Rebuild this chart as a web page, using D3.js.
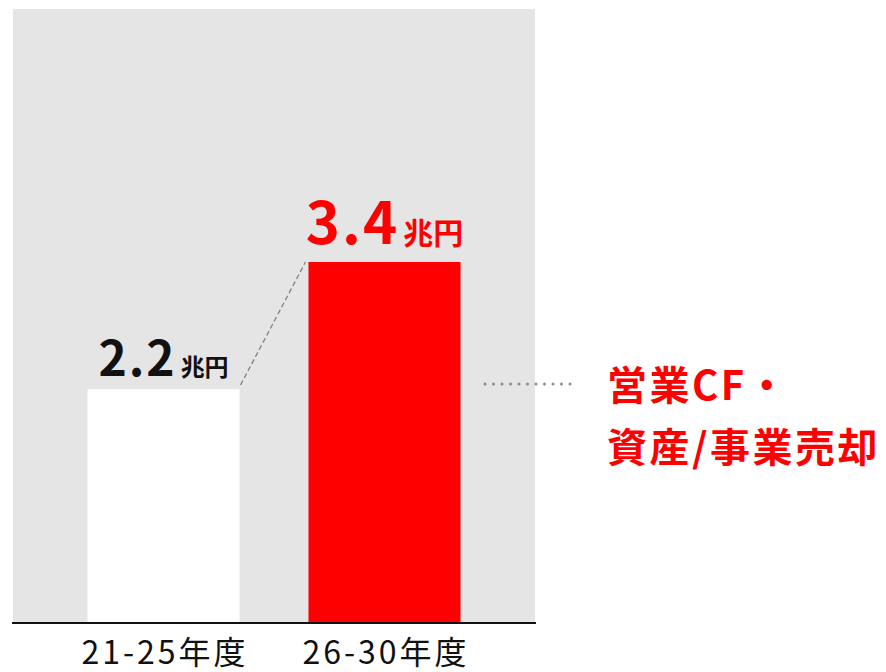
<!DOCTYPE html>
<html>
<head>
<meta charset="utf-8">
<script src="https://cdn.jsdelivr.net/npm/d3@7"></script>
<style>
  body { margin: 0; background: #fff; }
  text { font-family: "Noto Sans CJK JP", "Noto Sans", sans-serif; }
</style>
</head>
<body>
<div id="canvas"></div>
<script>
  const w = 886;
  const h = 672;

  // data
  const periods = ["21-25年度", "26-30年度"];
  const values = [2.2, 3.4];
  const valueLabels = ["2.2", "3.4"];
  const unit = "兆円";
  const noteLines = ["営業CF・", "資産/事業売却"];

  const colors = ["#ffffff", "#ff0000"];
  const labelColors = ["#111111", "#ff0000"];

  const panel = { left: 13, right: 535, top: 9, bottom: 622 };

  let svg = d3.select("#canvas")
              .append("svg")
              .attr("width", w)
              .attr("height", h);

  // grey background panel
  svg.append("rect")
     .attr("x", panel.left)
     .attr("y", panel.top)
     .attr("width", panel.right - panel.left)
     .attr("height", panel.bottom - panel.top)
     .attr("fill", "#e5e5e5");

  const x = d3.scaleBand()
              .domain(periods)
              .range([panel.left, panel.right])
              .paddingInner(0.312)
              .paddingOuter(0.337);

  const y = d3.scaleLinear()
              .domain([0, 3.4])
              .range([panel.bottom, 262]);

  let chart = svg.append("g");

  chart.selectAll("rect.bar")
       .data(values)
       .enter()
         .append("rect")
         .classed("bar", true)
         .attr("x", (d, i) => x(periods[i]))
         .attr("y", d => y(d))
         .attr("width", x.bandwidth())
         .attr("height", d => y(0) - y(d))
         .attr("fill", (d, i) => colors[i]);

  // baseline axis
  let axis = svg.append("g")
                .attr("transform", "translate(0," + (panel.bottom + 1) + ")")
                .call(d3.axisBottom(x).tickSize(0).tickPadding(18));
  axis.select(".domain")
      .attr("d", "M12,0H536")
      .attr("stroke", "#111")
      .attr("stroke-width", 2.2);
  axis.selectAll("text")
      .attr("font-size", 32)
      .attr("font-family", "'Noto Sans CJK JP', sans-serif")
      .attr("letter-spacing", "3px")
      .attr("dx", 1.5)
      .attr("fill", "#111");

  // value labels
  const bigSize = [48, 58];
  const unitSize = [24, 30];
  let labels = chart.selectAll("text.val")
       .data(values)
       .enter()
         .append("text")
         .classed("val", true)
         .attr("x", (d, i) => x(periods[i]) + x.bandwidth() / 2)
         .attr("y", (d, i) => y(d) - (i == 0 ? 13 : 18))
         .attr("text-anchor", "middle")
         .attr("fill", (d, i) => labelColors[i])
         .attr("font-weight", "bold");
  labels.append("tspan")
        .attr("font-size", (d, i) => bigSize[i])
        .attr("letter-spacing", "2px")
        .text((d, i) => valueLabels[i]);
  labels.append("tspan")
        .attr("font-size", (d, i) => unitSize[i])
        .attr("dx", 4)
        .text(unit);

  // dashed connector between bar tops
  chart.append("line")
       .attr("x1", x(periods[0]) + x.bandwidth() + 1)
       .attr("y1", y(values[0]) - 4)
       .attr("x2", x(periods[1]) - 3)
       .attr("y2", y(values[1]))
       .attr("stroke", "#808080")
       .attr("stroke-width", 1.3)
       .attr("stroke-dasharray", "5,3");

  // dotted leader to note
  const noteY = 384;
  svg.append("line")
     .attr("x1", 485)
     .attr("y1", noteY)
     .attr("x2", 578)
     .attr("y2", noteY)
     .attr("stroke", "#8c8c8c")
     .attr("stroke-width", 3)
     .attr("stroke-linecap", "round")
     .attr("stroke-dasharray", "0,8.5");

  svg.selectAll("text.note")
     .data(noteLines)
     .enter()
       .append("text")
       .classed("note", true)
       .attr("x", 607)
       .attr("y", (d, i) => 400 + i * 62)
       .attr("font-size", 40)
       .attr("font-weight", "bold")
       .attr("letter-spacing", "2.5px")
       .attr("fill", "#ff0000")
       .text(d => d);
</script>
</body>
</html>
